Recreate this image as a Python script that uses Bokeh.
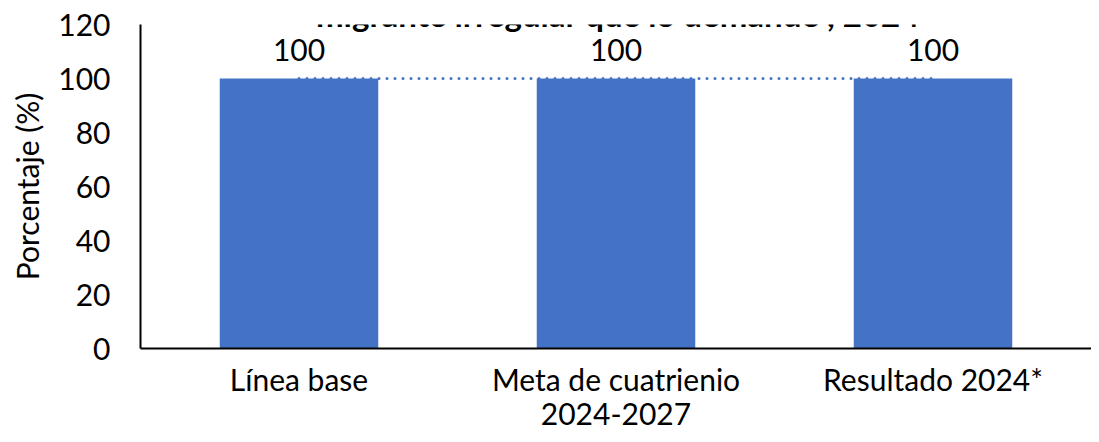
from bokeh.plotting import figure
from bokeh.models import ColumnDataSource, LabelSet, Label, FactorRange, Range1d, FixedTicker
from bokeh.core.properties import value
from bokeh.embed import file_html
from bokeh.resources import INLINE

categories = ["Línea base", "Meta de cuatrienio\n2024-2027", "Resultado 2024*"]
values = [100, 100, 100]
title_text = "migrante irregular que lo demande , 2024"
y_ticks = [0, 20, 40, 60, 80, 100, 120]

FONT = "Lato"
FS = "30px"
BLUE = "#4472C4"

src = ColumnDataSource(dict(cat=categories, val=values, lab=[str(v) for v in values]))

p = figure(x_range=FactorRange(*categories, range_padding=0), y_range=Range1d(0, 120),
           width=1091, height=434, output_backend="svg", toolbar_location=None,
           min_border_left=140, min_border_right=0, min_border_top=24, min_border_bottom=83)
p.outline_line_color = None
p.grid.grid_line_color = None
p.background_fill_color = "white"

p.vbar(x="cat", top="val", width=0.5, source=src, color=BLUE, line_color=None)
p.line(x="cat", y="val", source=src, line_color=BLUE, line_width=3, line_dash="0 8", line_cap="round")

labels = LabelSet(x="cat", y="val", text="lab", source=src, y_offset=18, text_align="center",
                  text_baseline="alphabetic", text_font=value(FONT), text_font_size=value(FS),
                  text_color="black")
p.add_layout(labels)

p.yaxis.ticker = FixedTicker(ticks=y_ticks)
p.yaxis.axis_label = "Porcentaje (%)"
p.yaxis.axis_label_text_font = FONT
p.yaxis.axis_label_text_font_size = FS
p.yaxis.axis_label_text_font_style = "normal"
p.yaxis.axis_label_text_color = "black"
p.yaxis.axis_label_standoff = 10
for ax in (p.xaxis, p.yaxis):
    ax.major_label_text_font = FONT
    ax.major_label_text_font_size = FS
    ax.major_label_text_color = "black"
    ax.axis_line_color = "black"
    ax.axis_line_width = 2
    ax.major_tick_line_color = None
    ax.minor_tick_line_color = None
    ax.major_tick_out = 0
    ax.major_tick_in = 0
p.yaxis.major_label_standoff = 30
p.xaxis.major_label_standoff = 12
p.xaxis.major_label_text_line_height = 0.97

title = Label(x=len(categories) / 2, y=y_ticks[-1], x_offset=2, y_offset=11, text=title_text,
              text_align="center", text_baseline="alphabetic", text_font=FONT,
              text_font_size="33px", text_font_style="bold", text_color="black")
p.add_layout(title)

open("out.html", "w").write(file_html(p, INLINE))
